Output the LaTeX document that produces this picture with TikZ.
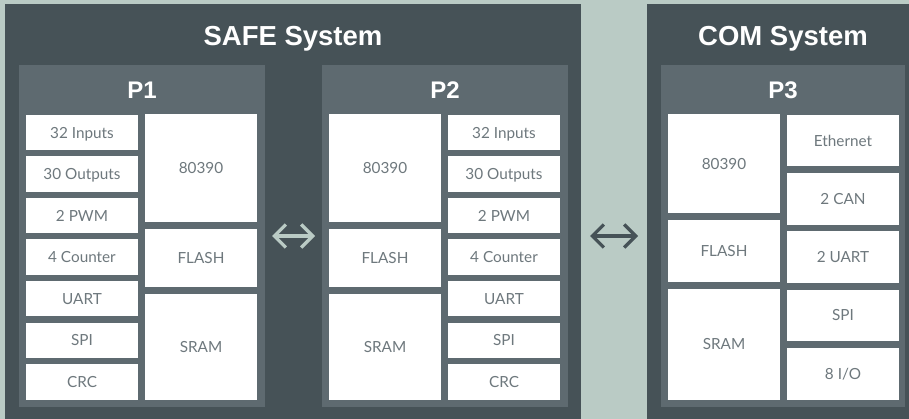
\documentclass[tikz,border=0pt]{standalone}
\usepackage{fontspec}
\setmainfont{Lato}
\newfontfamily\ttlfont{Liberation Sans}
\usetikzlibrary{arrows.meta}
\definecolor{bgc}{HTML}{BACBC5}
\definecolor{darkc}{HTML}{465257}
\definecolor{midc}{HTML}{5E6A70}
\definecolor{txtc}{HTML}{6E787D}
\newcommand\blk[7]{\node[#1, minimum width={(#5-#3)*1pt}, minimum height={(#6-#4)*1pt}] (#2) at ({(#3+#5)/2},{(#4+#6)/2}) {#7};}
\begin{document}
\begin{tikzpicture}[x=1pt,y=-1pt,
  panel/.style={fill=darkc, inner sep=0pt, outer sep=0pt},
  proc/.style={fill=midc, inner sep=0pt, outer sep=0pt},
  cell/.style={fill=white, text=txtc, inner sep=0pt, outer sep=0pt, font=\fontsize{15.3}{18}\selectfont, text height=11pt, text depth=0pt},
  ttl/.style={text=white, inner sep=0pt, font=\ttlfont\bfseries\fontsize{27.5}{30}\selectfont, text height=19.5pt, text depth=0pt},
  ptl/.style={text=white, inner sep=0pt, font=\ttlfont\bfseries\fontsize{24}{26}\selectfont, text height=17pt, text depth=0pt},
  dbl/.style={line width=3.2pt, {Straight Barb[length=11.5pt,width=23pt]}-{Straight Barb[length=11.5pt,width=23pt]}}]
\path[use as bounding box, fill=bgc] (0,0) rectangle (909,419);
% panels
\blk{panel}{safe}{5}{4}{581}{419}{}
\blk{panel}{com}{647}{4}{909}{419}{}
\node[ttl] (safet) at (293,36) {SAFE System};
\node[ttl] (comt) at (783,36) {COM System};
% processors
\blk{proc}{p1}{19}{65}{265}{407}{}
\blk{proc}{p2}{322}{65}{568}{407}{}
\blk{proc}{p3}{661}{65}{905}{407}{}
\node[ptl] (p1t) at (142,90.5) {P1};
\node[ptl] (p2t) at (445,90.5) {P2};
\node[ptl] (p3t) at (783,90.5) {P3};
% P1 left column
\blk{cell}{p1a}{26}{115}{138}{150.3}{32 Inputs}
\blk{cell}{p1b}{26}{156.5}{138}{191.8}{30 Outputs}
\blk{cell}{p1c}{26}{198}{138}{233.3}{2 PWM}
\blk{cell}{p1d}{26}{239.5}{138}{274.8}{4 Counter}
\blk{cell}{p1e}{26}{281}{138}{316.3}{UART}
\blk{cell}{p1f}{26}{322.5}{138}{357.8}{SPI}
\blk{cell}{p1g}{26}{364}{138}{399.5}{CRC}
% P1 right column
\blk{cell}{p1cpu}{145}{114.5}{257}{221.7}{80390}
\blk{cell}{p1fl}{145}{229}{257}{286.7}{FLASH}
\blk{cell}{p1sr}{145}{294}{257}{399.5}{SRAM}
% P2 left column
\blk{cell}{p2cpu}{329}{114.5}{441}{221.7}{80390}
\blk{cell}{p2fl}{329}{229}{441}{286.7}{FLASH}
\blk{cell}{p2sr}{329}{294}{441}{399.5}{SRAM}
% P2 right column
\blk{cell}{p2a}{448}{115}{560}{150.3}{32 Inputs}
\blk{cell}{p2b}{448}{156.5}{560}{191.8}{30 Outputs}
\blk{cell}{p2c}{448}{198}{560}{233.3}{2 PWM}
\blk{cell}{p2d}{448}{239.5}{560}{274.8}{4 Counter}
\blk{cell}{p2e}{448}{281}{560}{316.3}{UART}
\blk{cell}{p2f}{448}{322.5}{560}{357.8}{SPI}
\blk{cell}{p2g}{448}{364}{560}{399.5}{CRC}
% P3 left column
\blk{cell}{p3cpu}{668}{114.5}{780}{212.7}{80390}
\blk{cell}{p3fl}{668}{220}{780}{281.7}{FLASH}
\blk{cell}{p3sr}{668}{289}{780}{399.5}{SRAM}
% P3 right column
\blk{cell}{p3a}{787}{115}{899}{166.5}{Ethernet}
\blk{cell}{p3b}{787}{173.2}{899}{224.7}{2 CAN}
\blk{cell}{p3c}{787}{231.4}{899}{282.9}{2 UART}
\blk{cell}{p3d}{787}{289.6}{899}{341.1}{SPI}
\blk{cell}{p3e}{787}{347.8}{899}{399.5}{8 I/O}
% arrows
\coordinate (a1l) at (272,236);
\coordinate (a1r) at (315,236);
\coordinate (a2l) at (590,236);
\coordinate (a2r) at (638,236);
\draw[dbl, draw=bgc] (a1l) -- (a1r);
\draw[dbl, draw=darkc] (a2l) -- (a2r);
\end{tikzpicture}
\end{document}
